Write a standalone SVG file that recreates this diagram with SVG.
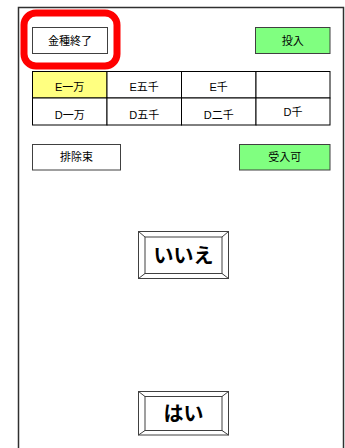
<svg xmlns="http://www.w3.org/2000/svg" width="345" height="448" viewBox="0 0 345 448">
<style>
text{font-family:"Liberation Sans","Noto Sans CJK JP",sans-serif;font-size:11px;fill:#000;text-anchor:middle;dominant-baseline:central}
.btn{fill:#fff;stroke:#404040;stroke-width:1}
.grn{fill:#80ff80;stroke:#404040;stroke-width:1}
.cell{fill:#fff;stroke:#000;stroke-width:1}
.big{font-size:20px;font-weight:bold}
.bev{fill:none;stroke:#404040;stroke-width:1}
</style>
<rect x="0" y="0" width="345" height="448" fill="#fff"/>
<rect id="frame" x="18.5" y="7.5" width="325" height="450" fill="#fff" stroke="#303030" stroke-width="1.5"/>
<g id="highlight"><rect x="24" y="13" width="93" height="53" rx="12" fill="none" stroke="#ff0000" stroke-width="7"/></g>
<g id="kinshu"><rect class="btn" x="32.5" y="27.5" width="75" height="26"/><text x="70" y="40.5">金種終了</text></g>
<g id="tounyu"><rect class="grn" x="255.5" y="27.5" width="74.5" height="26"/><text x="292.7" y="40.5">投入</text></g>
<g id="table">
<rect class="cell" x="32.5" y="71.5" width="74.5" height="26.5" style="fill:#ffff80"/>
<rect class="cell" x="107" y="71.5" width="74.5" height="26.5"/>
<rect class="cell" x="181.5" y="71.5" width="74.5" height="26.5"/>
<rect class="cell" x="256" y="71.5" width="74" height="26.5"/>
<rect class="cell" x="32.5" y="98" width="74.5" height="27"/>
<rect class="cell" x="107" y="98" width="74.5" height="27"/>
<rect class="cell" x="181.5" y="98" width="74.5" height="27"/>
<rect class="cell" x="256" y="98" width="74" height="27"/>
<text x="69.7" y="87">E一万</text>
<text x="144.2" y="87">E五千</text>
<text x="218.7" y="87">E千</text>
<text x="69.7" y="114.5">D一万</text>
<text x="144.2" y="114.5">D五千</text>
<text x="218.7" y="114.5">D二千</text>
<text x="293" y="111.5">D千</text>
</g>
<g id="haijo"><rect class="btn" x="32.5" y="144.5" width="88" height="25.5"/><text x="76.5" y="157">排除束</text></g>
<g id="ukeire"><rect class="grn" x="239.5" y="144.5" width="90.5" height="25.5"/><text x="284.7" y="157">受入可</text></g>
<g id="iie">
<rect class="btn" x="138.5" y="231.5" width="90" height="47"/>
<rect class="btn" x="145" y="237" width="77" height="36.5"/>
<path class="bev" d="M138.5 231.5L145 237M228.5 231.5L222 237M138.5 278.5L145 273.5M228.5 278.5L222 273.5"/>
<text class="big" x="183.5" y="255.5">いいえ</text>
</g>
<g id="hai">
<rect class="btn" x="138.5" y="391.5" width="90" height="43.5"/>
<rect class="btn" x="145" y="396.5" width="77" height="34"/>
<path class="bev" d="M138.5 391.5L145 396.5M228.5 391.5L222 396.5M138.5 435L145 430.5M228.5 435L222 430.5"/>
<text class="big" x="183.5" y="413.5">はい</text>
</g>
<g id="connectors"/>
</svg>
